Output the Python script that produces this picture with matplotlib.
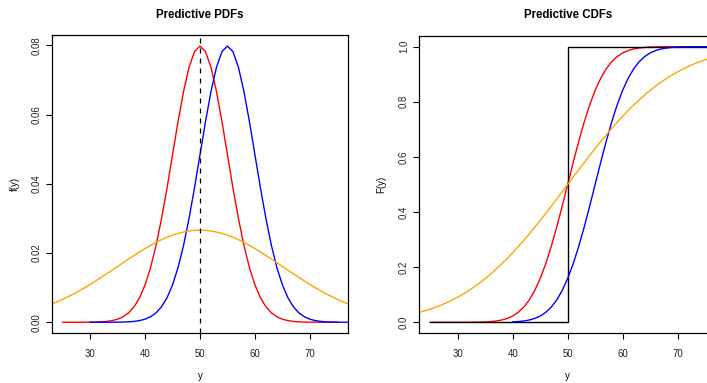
import math
import numpy as np
import matplotlib
matplotlib.use("Agg")
import matplotlib.pyplot as plt

plt.rcParams["font.family"] = ["Liberation Sans", "DejaVu Sans"]

# Predictive distributions: normal forecasts with (mean, sd)
labels = ["forecast A", "forecast B", "forecast C"]
means = [50, 55, 50]
sds = [5, 5, 15]
colors = ["red", "blue", "orange"]
# evaluation grids (start, stop) for each forecast, step of 1
pdf_ranges = [(25, 75), (30, 80), (0, 100)]
cdf_ranges = [(25, 75), (40, 80), (0, 100)]

# observed outcome
obs = 50
obs_grid = (25, 80)

x_lim = (23, 77)
pdf_ticks = [0.00, 0.02, 0.04, 0.06, 0.08]
cdf_ticks = [0.0, 0.2, 0.4, 0.6, 0.8, 1.0]
x_ticks = [30, 40, 50, 60, 70]


def npdf(x, m, s):
    return np.exp(-0.5 * ((x - m) / s) ** 2) / (s * math.sqrt(2 * math.pi))


def ncdf(x, m, s):
    return np.array([0.5 * (1 + math.erf((v - m) / (s * math.sqrt(2)))) for v in x])


W, H = 707, 383
fig = plt.figure(figsize=(W / 100, H / 100), dpi=100)

ax1 = fig.add_axes([51.7 / W, 1 - 333.3 / H, (348.3 - 51.7) / W, (333.3 - 35) / H])
ax2 = fig.add_axes([419.3 / W, 1 - 333.3 / H, (716 - 419.3) / W, (333.3 - 35.7) / H])

lw = 1.0
for (a, b), m, s, c in zip(pdf_ranges, means, sds, colors):
    xs = np.arange(a, b + 1, 1.0)
    ax1.plot(xs, npdf(xs, m, s), color=c, lw=lw)
ax1.axvline(obs, color="black", lw=0.9, ls=(0, (4, 4)))

# step CDF of the observation
sx = [obs_grid[0], obs, obs, obs_grid[1]]
sy = [0, 0, 1, 1]
ax2.plot(sx, sy, color="black", lw=lw, zorder=1.5)
for (a, b), m, s, c in zip(cdf_ranges, means, sds, colors):
    xs = np.arange(a, b + 1, 1.0)
    ax2.plot(xs, ncdf(xs, m, s), color=c, lw=lw, zorder=1 if c == "red" else 2)

fs = 6.9
for ax, ticks, ylab, title, ymax, fmt, ylx in [
    (ax1, pdf_ticks, "f(y)", "Predictive PDFs", 0.0798, "{:.2f}", -0.1237),
    (ax2, cdf_ticks, "F(y)", "Predictive CDFs", 1.0, "{:.1f}", -0.1267),
]:
    pad = 0.04 * ymax
    ax.set_ylim(-pad, ymax + pad)
    ax.set_xlim(*x_lim)
    ax.set_xticks(x_ticks)
    ax.set_yticks(ticks)
    ax.set_xticklabels([str(t) for t in x_ticks], fontsize=fs, color="#222222")
    ax.set_yticklabels([fmt.format(t) for t in ticks], fontsize=fs, rotation=90,
                       va="center", color="#222222")
    ax.tick_params(axis="x", length=4, width=0.8, pad=7)
    ax.tick_params(axis="y", length=4, width=0.8, pad=3.5)
    for sp in ax.spines.values():
        sp.set_linewidth(0.9)
    ax.set_title(title, fontsize=8.3, fontweight="bold", pad=12.5)
    ax.set_xlabel("y", fontsize=fs, va="center")
    ax.xaxis.set_label_coords(0.5, -0.143)
    ax.set_ylabel(ylab, fontsize=fs, va="center")
    ax.yaxis.set_label_coords(ylx, 0.5)

fig.savefig("out.png", dpi=100)
